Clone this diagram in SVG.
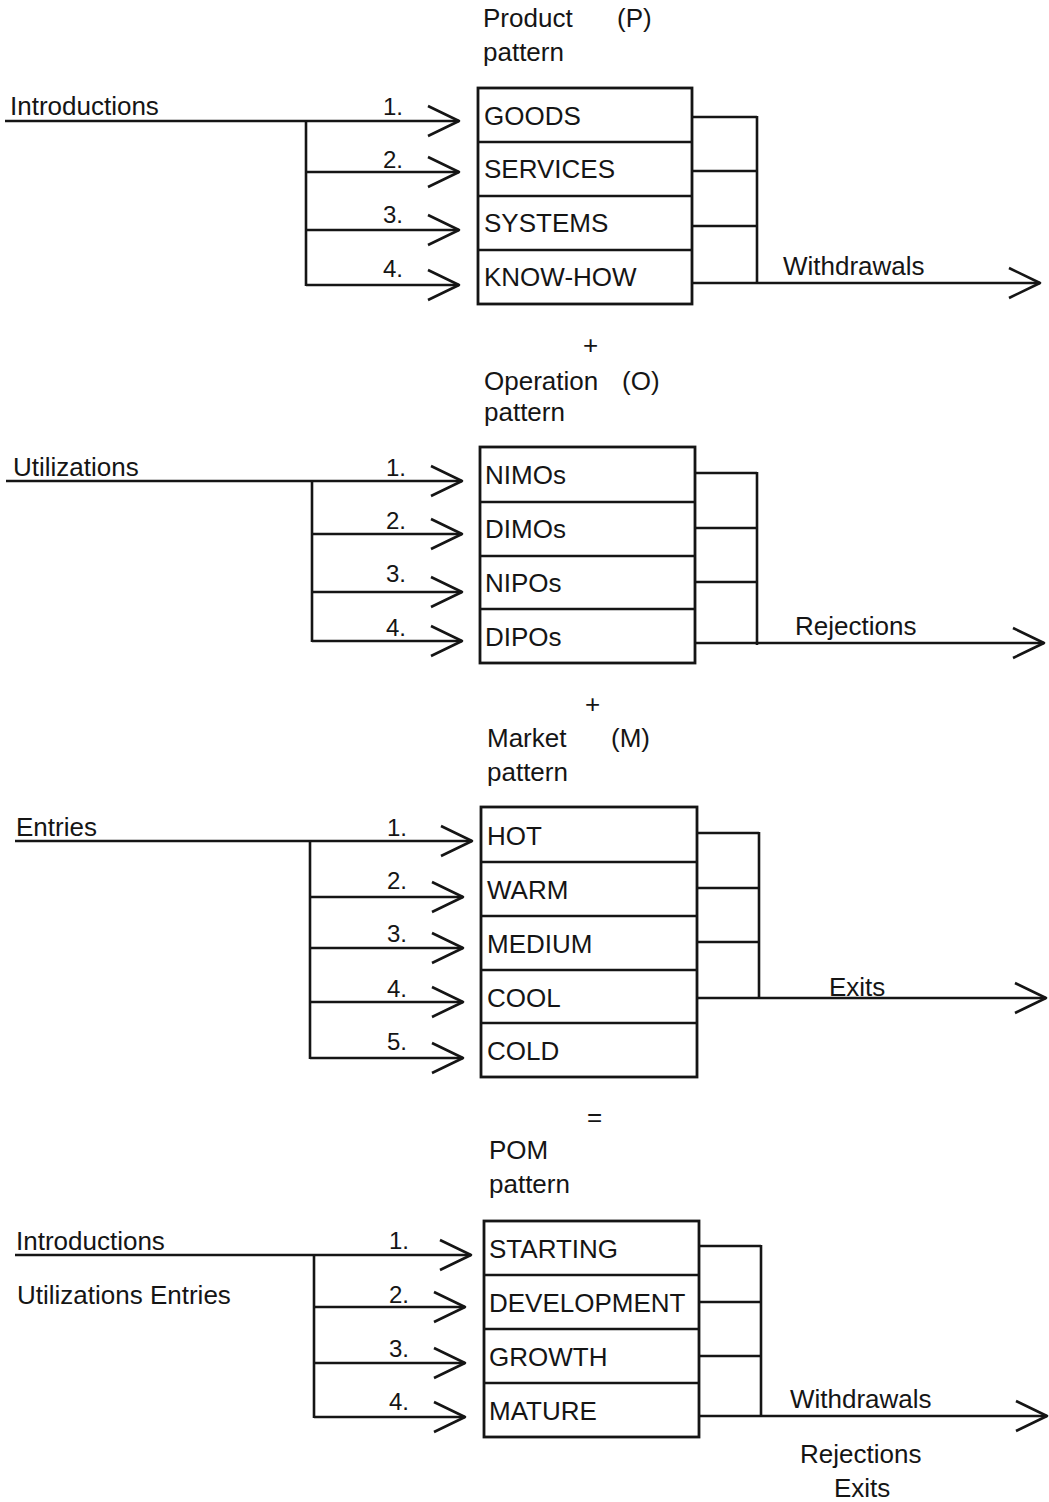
<svg xmlns="http://www.w3.org/2000/svg" width="1049" height="1502" viewBox="0 0 1049 1502">
<style>
text{font-family:"Liberation Sans",Arial,sans-serif;font-size:26px;fill:#151515}
.n{font-size:24px}
.box{fill:none;stroke:#151515;stroke-width:2.8}
.ln{fill:none;stroke:#151515;stroke-width:2.6}
.ar{fill:none;stroke:#151515;stroke-width:2.6;marker-end:url(#arr)}
</style>
<defs>
<marker id="arr" viewBox="-34 -20 38 40" refX="0" refY="0" markerWidth="38" markerHeight="40" markerUnits="userSpaceOnUse" orient="auto">
<path d="M-31,-15 L0,0 L-31,15" fill="none" stroke="#151515" stroke-width="2.6" stroke-linejoin="round"/>
</marker>
</defs>
<rect width="1049" height="1502" fill="#fff"/>

<!-- Section 1: Product pattern -->
<g id="title-p">
<text x="483" y="27">Product</text><text x="617" y="27">(P)</text>
<text x="483" y="61">pattern</text>
</g>
<g id="box-p">
<rect class="box" x="478" y="88" width="214" height="216"/>
<line class="ln" x1="478" y1="142" x2="692" y2="142"/>
<line class="ln" x1="478" y1="196" x2="692" y2="196"/>
<line class="ln" x1="478" y1="250" x2="692" y2="250"/>
<text x="484" y="125">GOODS</text>
<text x="484" y="178">SERVICES</text>
<text x="484" y="232">SYSTEMS</text>
<text x="484" y="286">KNOW-HOW</text>
</g>
<g id="labels-p">
<text x="10" y="115">Introductions</text>
<text class="n" x="383" y="115">1.</text>
<text class="n" x="383" y="168">2.</text>
<text class="n" x="383" y="223">3.</text>
<text class="n" x="383" y="277">4.</text>
<text x="783" y="275">Withdrawals</text>
</g>

<!-- Section 2: Operation pattern -->
<g id="title-o">
<text x="583" y="354">+</text>
<text x="484" y="390">Operation</text><text x="622" y="390">(O)</text>
<text x="484" y="421">pattern</text>
</g>
<g id="box-o">
<rect class="box" x="480" y="447" width="215" height="216"/>
<line class="ln" x1="480" y1="502" x2="695" y2="502"/>
<line class="ln" x1="480" y1="556" x2="695" y2="556"/>
<line class="ln" x1="480" y1="609" x2="695" y2="609"/>
<text x="485" y="484">NIMOs</text>
<text x="485" y="538">DIMOs</text>
<text x="485" y="592">NIPOs</text>
<text x="485" y="646">DIPOs</text>
</g>
<g id="labels-o">
<text x="13" y="476">Utilizations</text>
<text class="n" x="386" y="476">1.</text>
<text class="n" x="386" y="529">2.</text>
<text class="n" x="386" y="582">3.</text>
<text class="n" x="386" y="636">4.</text>
<text x="795" y="635">Rejections</text>
</g>

<!-- Section 3: Market pattern -->
<g id="title-m">
<text x="585" y="713">+</text>
<text x="487" y="747">Market</text><text x="611" y="747">(M)</text>
<text x="487" y="781">pattern</text>
</g>
<g id="box-m">
<rect class="box" x="481" y="807" width="216" height="270"/>
<line class="ln" x1="481" y1="862" x2="697" y2="862"/>
<line class="ln" x1="481" y1="916" x2="697" y2="916"/>
<line class="ln" x1="481" y1="970" x2="697" y2="970"/>
<line class="ln" x1="481" y1="1023" x2="697" y2="1023"/>
<text x="487" y="845">HOT</text>
<text x="487" y="899">WARM</text>
<text x="487" y="953">MEDIUM</text>
<text x="487" y="1007">COOL</text>
<text x="487" y="1060">COLD</text>
</g>
<g id="labels-m">
<text x="16" y="836">Entries</text>
<text class="n" x="387" y="836">1.</text>
<text class="n" x="387" y="889">2.</text>
<text class="n" x="387" y="942">3.</text>
<text class="n" x="387" y="997">4.</text>
<text class="n" x="387" y="1050">5.</text>
<text x="829" y="996">Exits</text>
</g>

<!-- Section 4: POM pattern -->
<g id="title-pom">
<text x="587" y="1126">=</text>
<text x="489" y="1159">POM</text>
<text x="489" y="1193">pattern</text>
</g>
<g id="box-pom">
<rect class="box" x="484" y="1221" width="215" height="216"/>
<line class="ln" x1="484" y1="1275" x2="699" y2="1275"/>
<line class="ln" x1="484" y1="1329" x2="699" y2="1329"/>
<line class="ln" x1="484" y1="1383" x2="699" y2="1383"/>
<text x="489" y="1258">STARTING</text>
<text x="489" y="1312">DEVELOPMENT</text>
<text x="489" y="1366">GROWTH</text>
<text x="489" y="1420">MATURE</text>
</g>
<g id="labels-pom">
<text x="16" y="1250">Introductions</text>
<text x="17" y="1304">Utilizations Entries</text>
<text class="n" x="389" y="1249">1.</text>
<text class="n" x="389" y="1303">2.</text>
<text class="n" x="389" y="1357">3.</text>
<text class="n" x="389" y="1410">4.</text>
<text x="790" y="1408">Withdrawals</text>
<text x="800" y="1463">Rejections</text>
<text x="834" y="1497">Exits</text>
</g>

<g id="connectors">
<!-- section 1 -->
<line class="ar" x1="5" y1="121" x2="459" y2="121"/>
<line class="ln" x1="306" y1="121" x2="306" y2="286"/>
<line class="ar" x1="306" y1="172" x2="459" y2="172"/>
<line class="ar" x1="306" y1="230" x2="459" y2="230"/>
<line class="ar" x1="306" y1="285" x2="459" y2="285"/>
<line class="ln" x1="692" y1="117" x2="757" y2="117"/>
<line class="ln" x1="692" y1="171" x2="757" y2="171"/>
<line class="ln" x1="692" y1="226" x2="757" y2="226"/>
<line class="ln" x1="757" y1="116" x2="757" y2="283"/>
<line class="ar" x1="692" y1="283" x2="1040" y2="283"/>
<!-- section 2 -->
<line class="ar" x1="6" y1="481" x2="462" y2="481"/>
<line class="ln" x1="312" y1="480" x2="312" y2="642"/>
<line class="ar" x1="312" y1="534" x2="462" y2="534"/>
<line class="ar" x1="312" y1="592" x2="462" y2="592"/>
<line class="ar" x1="312" y1="641" x2="462" y2="641"/>
<line class="ln" x1="695" y1="473" x2="757" y2="473"/>
<line class="ln" x1="695" y1="528" x2="757" y2="528"/>
<line class="ln" x1="695" y1="582" x2="757" y2="582"/>
<line class="ln" x1="757" y1="472" x2="757" y2="645"/>
<line class="ar" x1="695" y1="643" x2="1044" y2="643"/>
<!-- section 3 -->
<line class="ar" x1="15" y1="841" x2="472" y2="841"/>
<line class="ln" x1="310" y1="840" x2="310" y2="1059"/>
<line class="ar" x1="310" y1="897" x2="463" y2="897"/>
<line class="ar" x1="310" y1="948" x2="463" y2="948"/>
<line class="ar" x1="310" y1="1002" x2="463" y2="1002"/>
<line class="ar" x1="310" y1="1058" x2="463" y2="1058"/>
<line class="ln" x1="697" y1="833" x2="759" y2="833"/>
<line class="ln" x1="697" y1="888" x2="759" y2="888"/>
<line class="ln" x1="697" y1="942" x2="759" y2="942"/>
<line class="ln" x1="759" y1="832" x2="759" y2="998"/>
<line class="ar" x1="697" y1="998" x2="1046" y2="998"/>
<!-- section 4 -->
<line class="ar" x1="15" y1="1255" x2="471" y2="1255"/>
<line class="ln" x1="314" y1="1254" x2="314" y2="1418"/>
<line class="ar" x1="314" y1="1307" x2="465" y2="1307"/>
<line class="ar" x1="314" y1="1363" x2="465" y2="1363"/>
<line class="ar" x1="314" y1="1417" x2="465" y2="1417"/>
<line class="ln" x1="699" y1="1246" x2="761" y2="1246"/>
<line class="ln" x1="699" y1="1302" x2="761" y2="1302"/>
<line class="ln" x1="699" y1="1356" x2="761" y2="1356"/>
<line class="ln" x1="761" y1="1245" x2="761" y2="1416"/>
<line class="ar" x1="699" y1="1416" x2="1047" y2="1416"/>
</g>
</svg>
